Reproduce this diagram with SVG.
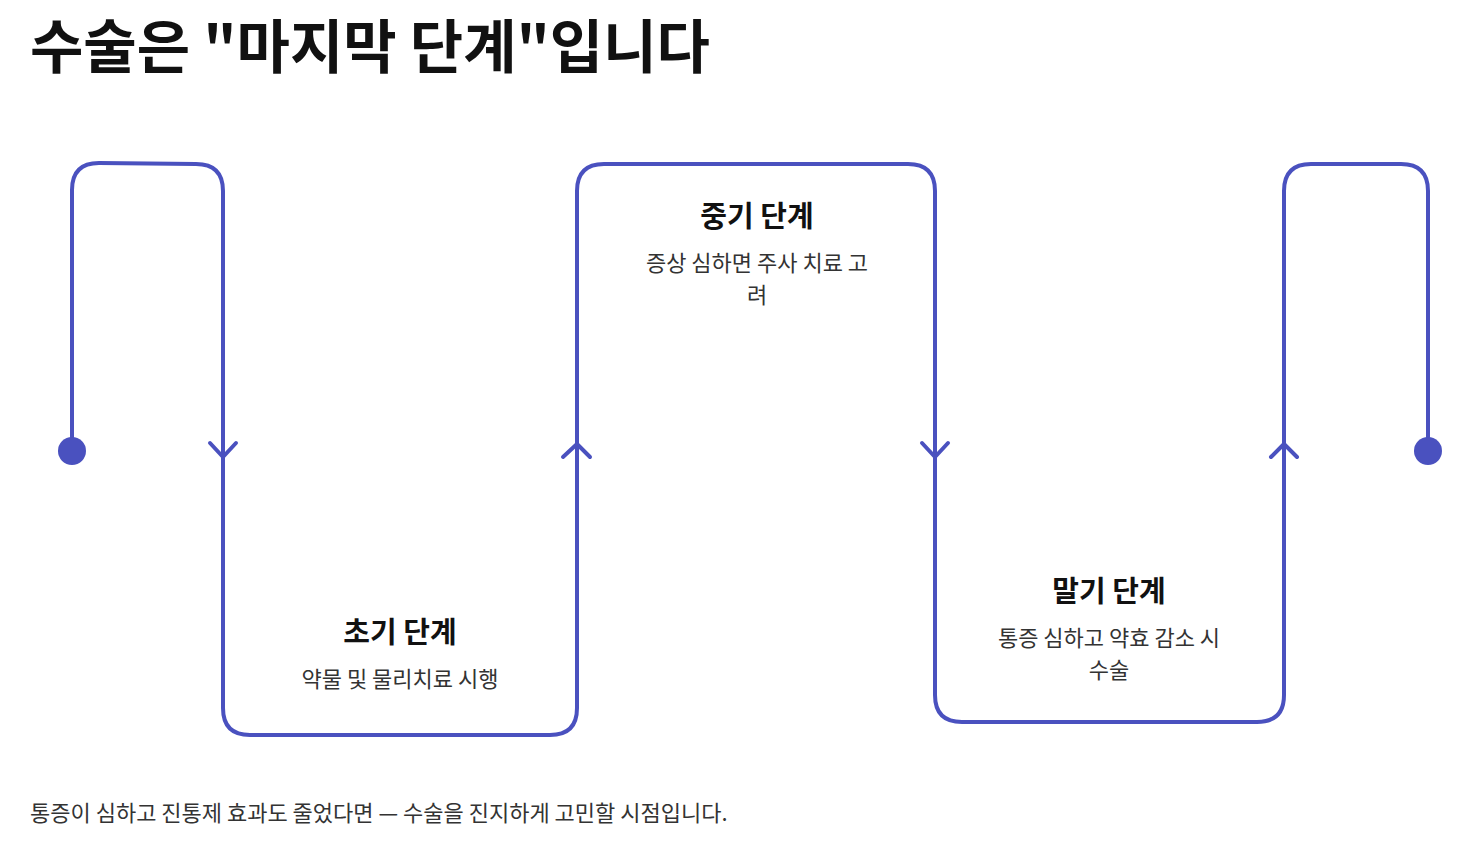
<svg xmlns="http://www.w3.org/2000/svg" width="1462" height="859" viewBox="0 0 1462 859">
<style>
text{font-family:"Noto Sans CJK KR","Noto Sans",sans-serif}
.t{font-size:58px;font-weight:700;fill:#111}
.h{font-size:29px;font-weight:700;fill:#111;text-anchor:middle}
.d{font-size:22px;fill:#333;text-anchor:middle}
.f{font-size:22px;fill:#333}
.ln{fill:none;stroke:#4a51bf;stroke-width:4;stroke-linecap:round;stroke-linejoin:round}
</style>
<rect width="1462" height="859" fill="#fff"/>
<text class="t" x="30" y="68">수술은 "마지막 단계"입니다</text>
<g id="connectors">
<path class="ln" d="M72,451 V190 Q72,163 99,163 L196,164 Q223,164 223,191 V708 Q223,735 250,735 H550 Q577,735 577,708 V191 Q577,164 604,164 H908 Q935,164 935,191 V695 Q935,722 962,722 H1257 Q1284,722 1284,695 V191 Q1284,164 1311,164 H1401 Q1428,164 1428,191 V451"/>
<path class="ln" d="M210,443 L223,457 L236,443"/>
<path class="ln" d="M563,457 L577,444 L590,457"/>
<path class="ln" d="M922,443 L935,457 L948,443"/>
<path class="ln" d="M1271,457 L1284,444 L1297,457"/>
<circle cx="72" cy="451" r="14" fill="#4a51bf"/>
<circle cx="1428" cy="451" r="14" fill="#4a51bf"/>
</g>
<g id="early"><text class="h" x="400" y="643">초기 단계</text><text class="d" x="400" y="687">약물 및 물리치료 시행</text></g>
<g id="mid"><text class="h" x="757" y="227">중기 단계</text><text class="d" x="757" y="271">증상 심하면 주사 치료 고</text><text class="d" x="757" y="303">려</text></g>
<g id="late"><text class="h" x="1109" y="602">말기 단계</text><text class="d" x="1109" y="646">통증 심하고 약효 감소 시</text><text class="d" x="1109" y="678">수술</text></g>
<text class="f" x="30" y="821">통증이 심하고 진통제 효과도 줄었다면 — 수술을 진지하게 고민할 시점입니다.</text>
</svg>
